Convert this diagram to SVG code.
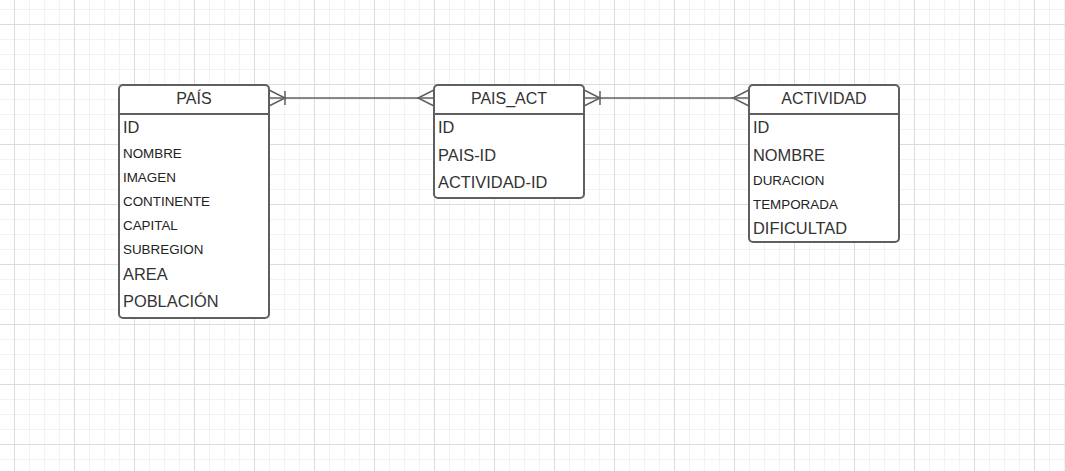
<svg xmlns="http://www.w3.org/2000/svg" width="1065" height="471" viewBox="0 0 1065 471">
  <defs>
    <pattern id="grid-minor" x="14" y="9" width="15" height="15" patternUnits="userSpaceOnUse">
      <path d="M0 0 H15 M0 0 V15" fill="none" stroke="#e6e6e6" stroke-width="1"/>
    </pattern>
    <pattern id="grid-major" x="14" y="24" width="60" height="60" patternUnits="userSpaceOnUse">
      <path d="M0 0.5 H60 M0.5 0 V60" fill="none" stroke="#dcdcdc" stroke-width="1"/>
    </pattern>
  </defs>
  <style>
    .box { fill: #ffffff; stroke: #5f5f5f; stroke-width: 2; }
    .sep { stroke: #5f5f5f; stroke-width: 2; }
    .conn { fill: none; stroke: #5f5f5f; stroke-width: 1.5; }
    text { font-family: "Liberation Sans", Arial, sans-serif; fill: #333333; }
    .title { font-size: 16px; text-anchor: middle; }
    .big { font-size: 16.4px; }
    .small { font-size: 13.4px; fill: #222222; }
  </style>

  <!-- canvas and grid -->
  <rect x="0" y="0" width="1065" height="471" fill="#ffffff"/>
  <rect x="0" y="0" width="1065" height="471" fill="url(#grid-minor)"/>
  <rect x="0" y="0" width="1065" height="471" fill="url(#grid-major)"/>

  <!-- relationships -->
  <g id="connectors">
    <!-- PAÍS to PAIS_ACT -->
    <path class="conn" d="M269 98 H434"/>
    <path class="conn" d="M269 90 L285 98 L269 106"/>
    <path class="conn" d="M285 91 V105"/>
    <path class="conn" d="M434 90 L418 98 L434 106"/>
    <!-- PAIS_ACT to ACTIVIDAD -->
    <path class="conn" d="M584 98 H749"/>
    <path class="conn" d="M584 90 L600 98 L584 106"/>
    <path class="conn" d="M600 91 V105"/>
    <path class="conn" d="M749 90 L733 98 L749 106"/>
  </g>

  <g id="pais">
    <rect class="box" x="119" y="85" width="150" height="233" rx="4"/>
    <line class="sep" x1="119" y1="114" x2="269" y2="114"/>
    <text class="title" x="194" y="104">PAÍS</text>
    <text class="big" x="123" y="133">ID</text>
    <text class="small" x="123" y="158">NOMBRE</text>
    <text class="small" x="123" y="182">IMAGEN</text>
    <text class="small" x="123" y="206">CONTINENTE</text>
    <text class="small" x="123" y="230">CAPITAL</text>
    <text class="small" x="123" y="254">SUBREGION</text>
    <text class="big" x="123" y="280">AREA</text>
    <text class="big" x="123" y="307">POBLACIÓN</text>
  </g>

  <g id="pais_act">
    <rect class="box" x="434" y="85" width="150" height="113" rx="4"/>
    <line class="sep" x1="434" y1="114" x2="584" y2="114"/>
    <text class="title" x="509" y="104">PAIS_ACT</text>
    <text class="big" x="438" y="133">ID</text>
    <text class="big" x="438" y="161">PAIS-ID</text>
    <text class="big" x="438" y="188">ACTIVIDAD-ID</text>
  </g>

  <g id="actividad">
    <rect class="box" x="749" y="85" width="150" height="157" rx="4"/>
    <line class="sep" x1="749" y1="114" x2="899" y2="114"/>
    <text class="title" x="824" y="104">ACTIVIDAD</text>
    <text class="big" x="753" y="133">ID</text>
    <text class="big" x="753" y="161">NOMBRE</text>
    <text class="small" x="753" y="185">DURACION</text>
    <text class="small" x="753" y="209">TEMPORADA</text>
    <text class="big" x="753" y="234">DIFICULTAD</text>
  </g>
</svg>
